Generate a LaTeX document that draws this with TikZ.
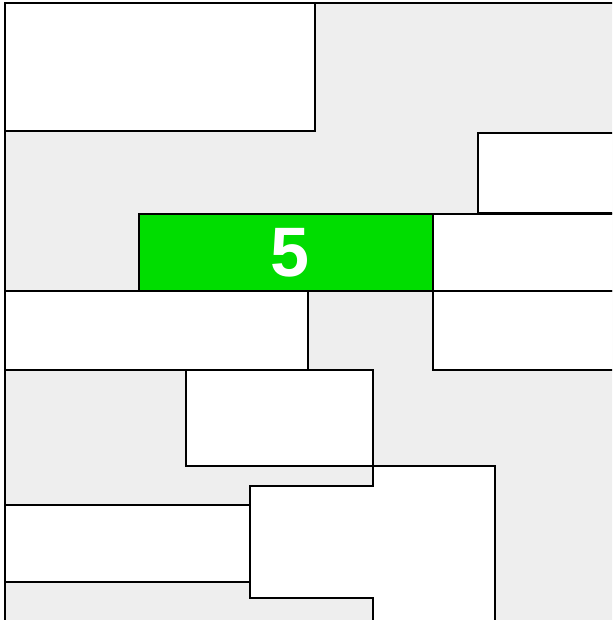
\documentclass[tikz,border=0pt]{standalone}
\usepackage{fontspec}
\setsansfont{Liberation Sans}
\usepackage{tikz}
\definecolor{bggray}{RGB}{238,238,238}
\definecolor{hlgreen}{RGB}{0,221,0}

\begin{document}
\begin{tikzpicture}[
        x=1pt, y=-1pt,
        % Styles for the tiles
        tile/.style={
            rectangle, draw=black, line width=1.5pt, fill=white,
            anchor=north west, inner sep=0pt, outer sep=0pt
        },
        active/.style={
            tile, fill=hlgreen, text=white,
            font=\sffamily\bfseries\fontsize{70}{70}\selectfont
        }
    ]
    \useasboundingbox (0,0) rectangle (612,620);
    \clip (0,0) rectangle (612,620);

    % 1. BACKGROUND
    \draw[fill=bggray, line width=1.5pt] (5,3) rectangle (650,660);

    % 2. TILES
    \node[tile, minimum width=310pt, minimum height=128pt] (TopLeft)  at (5,3)     {};
    \node[tile, minimum width=160pt, minimum height=80pt]  (TopRight) at (478,133) {};
    \node[active, minimum width=294pt, minimum height=77pt,
          text width=294pt, align=center] (Five) at (139,214) {\hspace*{7pt}5};
    \node[tile, minimum width=200pt, minimum height=77pt]  (MidRight) at (433,214) {};
    \node[tile, minimum width=303pt, minimum height=79pt]  (MidLeft)  at (5,291)   {};
    \node[tile, minimum width=200pt, minimum height=79pt]  (LowRight) at (433,291) {};
    \node[tile, minimum width=187pt, minimum height=96pt]  (Centre)   at (186,370) {};
    \node[tile, minimum width=245pt, minimum height=77pt]  (LowLeft)  at (5,505)   {};

    % 3. STEPPED BLOCK
    \draw[fill=white, line width=1.5pt]
        (373,466) -- (495,466) -- (495,660) -- (373,660) -- (373,598)
        -- (250,598) -- (250,486) -- (373,486) -- cycle;

\end{tikzpicture}
\end{document}
